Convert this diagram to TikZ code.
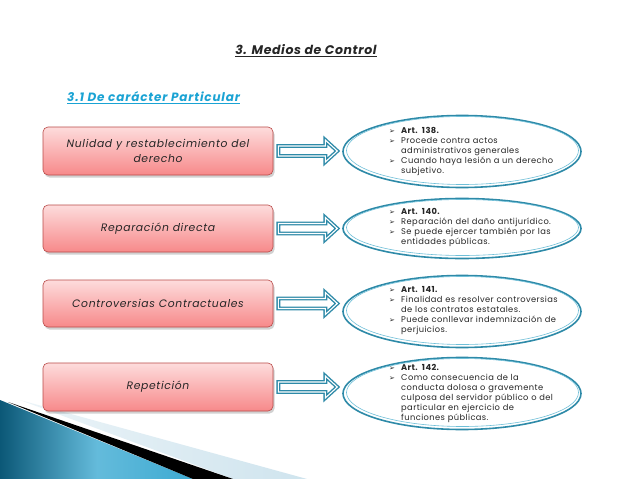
\documentclass[tikz,border=0pt]{standalone}
\usepackage{fontspec}
\setmainfont{Poppins}
\newfontfamily\dejavu{DejaVu Sans}
\usetikzlibrary{calc,shapes.geometric}
\definecolor{txt}{HTML}{262626}
\definecolor{subblue}{HTML}{1AA3D4}
\definecolor{pinkT}{HTML}{FDDCDC}
\definecolor{pinkB}{HTML}{F7898A}
\definecolor{boxred}{HTML}{B94A48}
\definecolor{tealD}{HTML}{2E8AA8}
\definecolor{tealL}{HTML}{6FBFD8}
\definecolor{decoD}{HTML}{0B5877}
\definecolor{decoM}{HTML}{3DAAD2}
\definecolor{decoL}{HTML}{CFE4EE}
\newcommand\bul{\makebox[12pt][l]{\dejavu\fontsize{7}{7}\selectfont\symbol{"27A2}}}
\newcommand\bitem[1]{\par\hangindent=12pt\hangafter=1\noindent\bul#1\par}
\tikzset{
  bx/.style={rounded corners=5pt, minimum width=230pt, minimum height=47pt,
    top color=pinkT, bottom color=pinkB, draw=boxred, line width=0.6pt,
    text=txt, font=\fontsize{10.8}{15}\selectfont\itshape\addfontfeature{LetterSpace=6}, align=center, inner sep=0pt},
  bxshadow/.style={rounded corners=5pt, fill=black, opacity=0.18},
  ell/.style={ellipse, draw=tealD, line width=1.6pt, minimum width=238pt, inner sep=0pt},
  elltxt/.style={anchor=north west, text width=185pt, align=left, text=txt,
    font=\fontsize{8.3}{10}\selectfont\addfontfeature{LetterSpace=5}, inner sep=0pt},
  barrow/.style={draw=tealD, line width=1.4pt, double=white, double distance=1.1pt, fill=white, line join=miter}
}
\begin{document}
\begin{tikzpicture}[x=1pt,y=-1pt]
\useasboundingbox (0,0) rectangle (638,479);
\fill[white] (0,0) rectangle (638,479);
% decoration bottom-left
\shade[left color=decoL!40!white, right color=decoL] (20,400) -- (233,479) -- (307,479) -- cycle;
\shade[left color=decoD, right color=decoM, middle color=decoM!80!white] (0,400) -- (193,479) -- (0,479) -- cycle;
\fill[black] (8,402) -- (233,479) -- (193,479) -- cycle;
% title
\node[font=\fontsize{12.5}{14}\selectfont\bfseries\itshape\addfontfeature{LetterSpace=5}, text=txt] (title) at (306,51) {\underline{3. Medios de Control}};
\node[font=\fontsize{12}{14}\selectfont\bfseries\itshape\addfontfeature{LetterSpace=7}, text=subblue, anchor=west, inner sep=0pt] (sub) at (67,98) {\underline{3.1 De carácter Particular}};
% boxes
\foreach \y/\h in {151/48,228.5/47,303.5/47,387/48}{
  \fill[bxshadow] (44.5,\y-\h/2+2.5) rectangle (274.5,\y+\h/2+2.5);
}
\node[bx, minimum height=48pt] (b1) at (158,151) {Nulidad y restablecimiento del\\derecho};
\node[bx] (b2) at (158,228.5) {Reparación directa};
\node[bx] (b3) at (158,303.5) {Controversias Contractuales};
\node[bx, minimum height=48pt] (b4) at (158,387) {Repetición};
% ellipses
\node[ell, minimum height=72pt] (e1) at (462,151.5) {};
\node[ell, minimum height=60pt] (e2) at (462,228.5) {};
\node[ell, minimum height=72pt] (e3) at (462,311.5) {};
\node[ell, minimum height=72pt] (e4) at (462,393.5) {};
\foreach \e/\ry in {e1/34,e2/28,e3/34,e4/34}{
  \draw[tealL, line width=0.6pt] ($(\e.center)+(0.5,-1)$) ellipse [x radius=116, y radius=\ry];
}
% arrows
\foreach \b in {b1,b2,b3,b4}{
  \draw[barrow] ($(\b.east)+(5,-5)$) -- ++(47,0) -- ++(0,-6) -- ++(12,11) -- ++(-12,11) -- ++(0,-6) -- ++(-47,0) -- cycle;
}
% ellipse texts
\node[elltxt] (t1) at (389,123) {\bitem{\textbf{Art. 138.}}\bitem{Procede contra actos\newline administrativos generales}\bitem{Cuando haya lesión a un derecho\newline subjetivo.}};
\node[elltxt] (t2) at (389,204) {\bitem{\textbf{Art. 140.}}\bitem{Reparación del daño antijurídico.}\bitem{Se puede ejercer también por las\newline entidades públicas.}};
\node[elltxt] (t3) at (389,282) {\bitem{\textbf{Art. 141.}}\bitem{Finalidad es resolver controversias\newline de los contratos estatales.}\bitem{Puede conllevar indemnización de\newline perjuicios.}};
\node[elltxt] (t4) at (389,360) {\bitem{\textbf{Art. 142.}}\bitem{Como consecuencia de la\newline conducta dolosa o gravemente\newline culposa del servidor público o del\newline particular en ejercicio de\newline funciones públicas.}};
\end{tikzpicture}
\end{document}
